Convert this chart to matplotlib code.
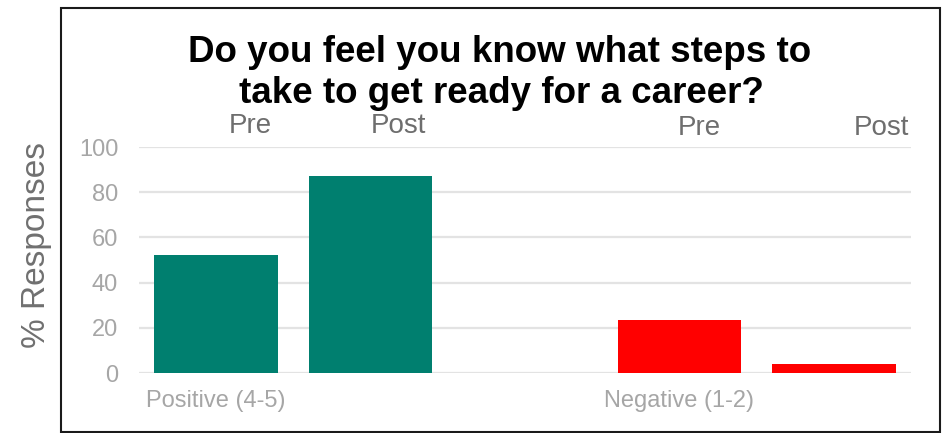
import matplotlib
matplotlib.use("Agg")
import matplotlib.pyplot as plt
from matplotlib.patches import Rectangle

plt.rcParams['font.family'] = ['Liberation Sans', 'DejaVu Sans']

title_lines = ["Do you feel you know what steps to", "take to get ready for a career?"]
categories = ["Positive (4-5)", "Negative (1-2)"]
series_labels = ["Pre", "Post"]
positive_values = [52, 87]
negative_values = [23.5, 4]
yticks = [0, 20, 40, 60, 80, 100]
ylabel = "% Responses"

W, H = 946, 433
fig = plt.figure(figsize=(W / 100, H / 100), dpi=100)
ax = fig.add_axes([139 / W, (H - 373) / H, (911 - 139) / W, (373 - 147) / H])

teal = "#007F6F"
red = "#FF0000"
pos_x = [0, 1]
neg_x = [3, 4]
ax.bar(pos_x, positive_values, width=0.8, color=teal, zorder=3)
ax.bar(neg_x, negative_values, width=0.8, color=red, zorder=3)

ax.set_xlim(-0.5, 4.5)
ax.set_ylim(0, 100)
ax.set_yticks(yticks)
ax.set_xticks([0, 3])
ax.set_xticklabels(categories)
ax.yaxis.grid(True, color="#E3E3E3", linewidth=1.6, zorder=0)
ax.set_axisbelow(True)
for s in ax.spines.values():
    s.set_visible(False)
ax.tick_params(axis='y', length=0, pad=15, labelsize=17, labelcolor="#A6A6A6")
ax.tick_params(axis='x', length=0, pad=12, labelsize=17, labelcolor="#A6A6A6")

# Pre / Post labels above the plot
label_pos = [(0.22, 106.2, series_labels[0]), (1.18, 106.2, series_labels[1]),
             (3.13, 105.3, series_labels[0]), (4.31, 105.3, series_labels[1])]
for x, y, t in label_pos:
    ax.text(x, y, t, ha='center', va='baseline', fontsize=20, color="#6E6E6E", clip_on=False)

fig.text(36 / W, (H - 245) / H, ylabel, rotation=90, ha='center', va='center',
         fontsize=24, color="#707070")

fig.text(500 / W, (H - 62) / H, title_lines[0], ha='center', va='baseline',
         fontsize=26.5, fontweight='bold', color='black')
fig.text(501 / W, (H - 103) / H, title_lines[1], ha='center', va='baseline',
         fontsize=26.5, fontweight='bold', color='black')

fig.patches.append(Rectangle((61 / W, (H - 431.5) / H), (940 - 61) / W, (431.5 - 8) / H,
                             transform=fig.transFigure, fill=False, edgecolor="#1A1A1A",
                             linewidth=1.5, zorder=10))

fig.savefig("out.png", dpi=100)
